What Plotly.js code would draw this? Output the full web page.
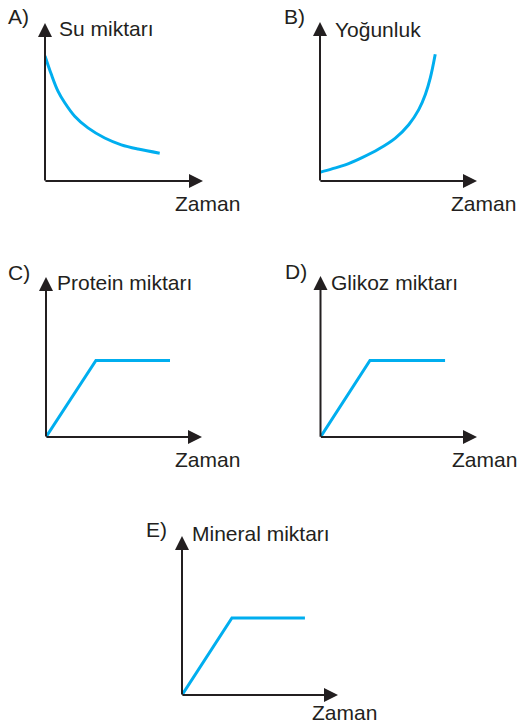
<!DOCTYPE html>
<html>
<head>
<meta charset="utf-8">
<script src="https://cdn.plot.ly/plotly-3.0.1.min.js"></script>
<style>
  html, body { margin: 0; padding: 0; background: #ffffff; }
  #chart { width: 517px; height: 726px; }
</style>
</head>
<body>
<div id="chart"></div>
<script>
// A) Su miktarı – falls off quickly, then levels out
const suZaman   = [0, 0.40, 0.82, 1.25, 1.88, 2.72, 3.78, 4.83, 5.89, 7.26];
const suMiktari = [7.92, 6.75, 5.69, 4.95, 4.10, 3.36, 2.72, 2.29, 2.02, 1.76];

// B) Yoğunluk – rises slowly, then steeply
const yogunlukZaman = [0, 0.76, 1.61, 2.68, 3.74, 4.80, 5.65, 6.29, 6.71, 7.03, 7.34];
const yogunluk      = [0.55, 0.76, 1.01, 1.47, 2.01, 2.70, 3.54, 4.49, 5.44, 6.50, 7.97];

// C) Protein miktarı – linear rise, then plateau
const proteinZaman   = [0, 3.20, 7.95];
const proteinMiktari = [0, 4.78, 4.78];

// D) Glikoz miktarı
const glikozZaman   = [0, 3.16, 7.96];
const glikozMiktari = [0, 4.75, 4.75];

// E) Mineral miktarı
const mineralZaman   = [0, 3.20, 7.88];
const mineralMiktari = [0, 4.84, 4.84];

// Text
const panelLetters = ['A)', 'B)', 'C)', 'D)', 'E)'];
const yLabels = ['Su miktarı', 'Yoğunluk', 'Protein miktarı', 'Glikoz miktarı', 'Mineral miktarı'];
const xLabel = 'Zaman';

const seriesX = [suZaman, yogunlukZaman, proteinZaman, glikozZaman, mineralZaman];
const seriesY = [suMiktari, yogunluk, proteinMiktari, glikozMiktari, mineralMiktari];
const lineShapes = ['spline', 'spline', 'linear', 'linear', 'linear'];

// Page geometry (pixels): axis origin (x0, y0), arrow tips (x1, y1),
// and left / vertical-centre positions of the three labels per panel.
const W = 517, H = 726;
const panels = [
  { x0: 45,    x1: 203,   y0: 181,   y1: 23,    letter: [7, 16],      ylab: [58, 28.7],    xlab: [174, 204] },
  { x0: 320,   x1: 477,   y0: 181,   y1: 22,    letter: [283, 16.5],  ylab: [333.5, 29],   xlab: [450, 203.7] },
  { x0: 46,    x1: 202,   y0: 437,   y1: 277,   letter: [7, 272.5],   ylab: [56.3, 282],   xlab: [174, 459] },
  { x0: 320.5, x1: 477,   y0: 437,   y1: 276,   letter: [284, 271.7], ylab: [329.7, 282],  xlab: [450.7, 459] },
  { x0: 182,   x1: 338,   y0: 695,   y1: 536,   letter: [145, 529.5], ylab: [190.7, 533],  xlab: [310.7, 712.5] }
];

const INK = '#231f20';
const BLUE = '#00aeef';
const FONT = { family: 'Liberation Sans, Arial, sans-serif', size: 21, color: INK };

const px = v => v / W;
const py = v => 1 - v / H;

const traces = [];
const layout = {
  width: W,
  height: H,
  margin: { l: 0, r: 0, t: 0, b: 0, pad: 0 },
  paper_bgcolor: '#ffffff',
  plot_bgcolor: 'rgba(0,0,0,0)',
  showlegend: false,
  hovermode: false,
  font: FONT,
  annotations: []
};

const hiddenAxis = {
  range: [0, 10],
  showgrid: false,
  zeroline: false,
  showline: false,
  showticklabels: false,
  ticks: '',
  fixedrange: true
};

panels.forEach((p, i) => {
  const n = i === 0 ? '' : String(i + 1);
  const xId = 'x' + n, yId = 'y' + n;

  layout['xaxis' + n] = Object.assign({}, hiddenAxis, {
    domain: [px(p.x0), px(p.x1)],
    anchor: yId
  });
  layout['yaxis' + n] = Object.assign({}, hiddenAxis, {
    domain: [py(p.y0), py(p.y1)],
    anchor: xId
  });

  traces.push({
    type: 'scatter',
    mode: 'lines',
    x: seriesX[i],
    y: seriesY[i],
    xaxis: xId,
    yaxis: yId,
    cliponaxis: false,
    line: { color: BLUE, width: 3, shape: lineShapes[i], smoothing: 1 }
  });

  // Axis arrows (Zaman → right, quantity → up)
  const arrow = {
    text: '',
    showarrow: true,
    arrowhead: 2,
    arrowsize: 1.4,
    arrowwidth: 2,
    arrowcolor: INK,
    standoff: 0,
    startstandoff: 0,
    xref: xId, yref: yId, axref: xId, ayref: yId
  };
  layout.annotations.push(Object.assign({}, arrow, { x: 10, y: 0, ax: -0.07, ay: 0 }));
  layout.annotations.push(Object.assign({}, arrow, { x: 0, y: 10, ax: 0, ay: -0.07 }));

  // Labels
  const label = (text, pos) => ({
    text: text,
    showarrow: false,
    xref: 'paper', yref: 'paper',
    x: px(pos[0]), y: py(pos[1]),
    xanchor: 'left', yanchor: 'middle',
    borderpad: 0,
    font: FONT
  });
  layout.annotations.push(label(panelLetters[i], p.letter));
  layout.annotations.push(label(yLabels[i], p.ylab));
  layout.annotations.push(label(xLabel, p.xlab));
});

Plotly.newPlot('chart', traces, layout, { staticPlot: true, displayModeBar: false });
</script>
</body>
</html>
